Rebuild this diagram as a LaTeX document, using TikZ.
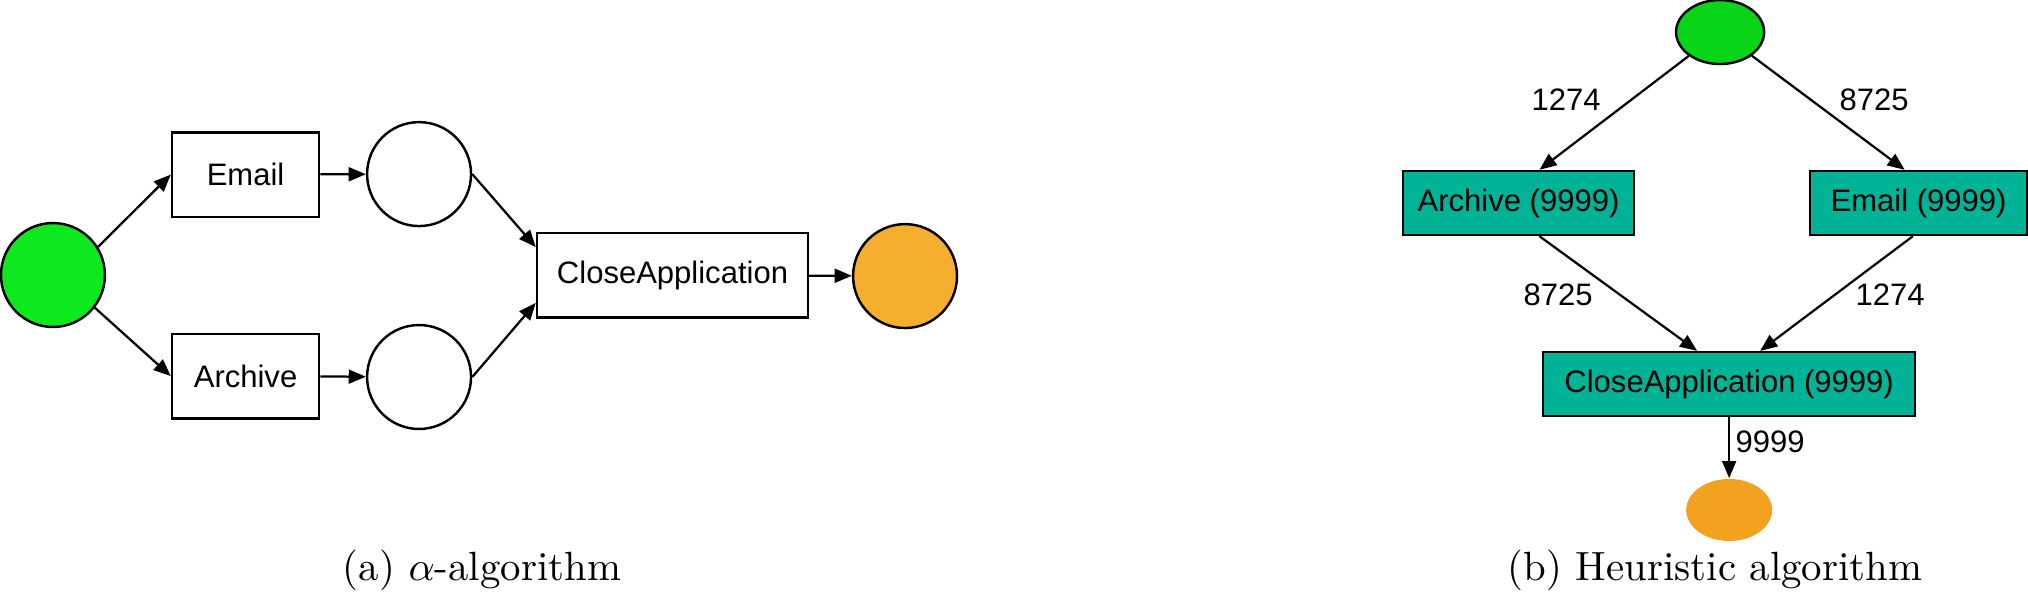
\documentclass[tikz,border=0pt]{standalone}
\usepackage{fontspec}
\newfontfamily\arialfont{Liberation Sans}
\usepackage{xcolor}
\definecolor{pmgreen}{RGB}{14,232,30}
\definecolor{pmorange}{RGB}{245,174,45}
\definecolor{hmgreen}{RGB}{8,212,24}
\definecolor{hmteal}{RGB}{0,178,150}
\definecolor{hmorange}{RGB}{242,162,30}
\usepackage{tikz}
\usetikzlibrary{arrows.meta, positioning, shapes.geometric, calc}

\tikzset{
  boxfont/.style={font=\arialfont\fontsize{7.6pt}{9pt}\selectfont},
  place/.style={circle, draw, line width=0.6pt, minimum size=0.895cm, inner sep=0pt},
  trans/.style={rectangle, draw, line width=0.6pt, fill=white, boxfont, inner sep=0pt, minimum height=0.728cm},
  hbox/.style={rectangle, draw, line width=0.6pt, fill=hmteal, boxfont, inner sep=0pt, minimum height=0.551cm},
  flow/.style={line width=0.55pt, -{Triangle[length=4.2pt,width=3.4pt]}},
  weight/.style={boxfont, inner sep=1pt},
  subcap/.style={font=\fontsize{10pt}{12pt}\selectfont, anchor=base}
}

\begin{document}
\begin{tikzpicture}
  \useasboundingbox (0,0) rectangle (17.46,5.175);

  % --- Left: alpha-algorithm ---
  \node[place, fill=pmgreen] (startA) at (0.456,2.807) {};
  \node[trans, minimum width=1.266cm] (emailA) at (2.114,3.672) {Email};
  \node[trans, minimum width=1.266cm] (archiveA) at (2.114,1.937) {Archive};
  \node[place] (placeE) at (3.608,3.676) {};
  \node[place] (placeR) at (3.608,1.929) {};
  \node[trans, minimum width=2.333cm] (closeA) at (5.790,2.807) {CloseApplication};
  \node[place, fill=pmorange] (endA) at (7.792,2.798) {};

  \draw[flow] (startA.32) -- (emailA.west);
  \draw[flow] (startA.-38) -- (archiveA.west);
  \draw[flow] (emailA) -- (placeE);
  \draw[flow] (archiveA) -- (placeR);
  \draw[flow] (placeE.east) -- ([yshift=0.24cm]closeA.west);
  \draw[flow] (placeR.east) -- ([yshift=-0.24cm]closeA.west);
  \draw[flow] (closeA) -- (endA);

  \node[subcap] (capA) at (4.150,0.18) {(a) $\alpha$-algorithm};

  % --- Right: heuristic miner ---
  \node[ellipse, draw, line width=0.6pt, fill=hmgreen, minimum width=0.758cm, minimum height=0.551cm, inner sep=0pt] (startH) at (14.809,4.899) {};
  \node[hbox, minimum width=1.989cm] (archiveH) at (13.074,3.427) {Archive (9999)};
  \node[hbox, minimum width=1.868cm] (emailH) at (16.518,3.427) {Email (9999)};
  \node[hbox, minimum width=3.203cm] (closeH) at (14.887,1.868) {CloseApplication (9999)};
  \node[ellipse, fill=hmorange, minimum width=0.740cm, minimum height=0.534cm, inner sep=0pt] (endH) at (14.887,0.784) {};

  \draw[flow] (startH) -- ([xshift=0.18cm]archiveH.north);
  \draw[flow] (startH) -- ([xshift=-0.12cm]emailH.north);
  \draw[flow] ([xshift=0.18cm]archiveH.south) -- ([xshift=-0.276cm]closeH.north);
  \draw[flow] ([xshift=-0.05cm]emailH.south) -- ([xshift=0.267cm]closeH.north);
  \draw[flow] (closeH) -- (endH);

  % Weights
  \node[weight] (w1) at (13.483,4.314) {1274};
  \node[weight] (w2) at (16.135,4.314) {8725};
  \node[weight] (w3) at (13.414,2.635) {8725};
  \node[weight] (w4) at (16.273,2.635) {1274};
  \node[weight] (w5) at (15.240,1.369) {9999};

  \node[subcap] (capB) at (14.766,0.18) {(b) Heuristic algorithm};
\end{tikzpicture}
\end{document}
